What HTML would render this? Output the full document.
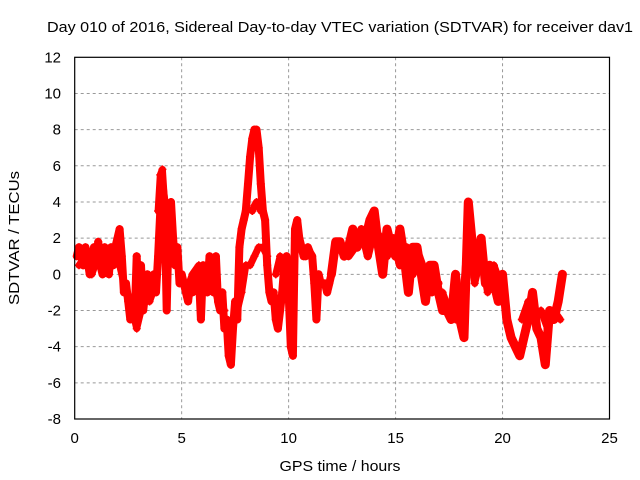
<!DOCTYPE html>
<html><head><meta charset="utf-8"><style>
body{margin:0;background:#fff}
svg{display:block;font-family:"Liberation Sans",sans-serif}
</style></head><body>
<svg id="chart" width="640" height="480" viewBox="0 0 640 480">
<text x="340" y="32" text-anchor="middle" font-size="15" textLength="586" lengthAdjust="spacingAndGlyphs" fill="#000">Day 010 of 2016, Sidereal Day-to-day VTEC variation (SDTVAR) for receiver dav1</text>
<text transform="translate(19,238) rotate(-90)" text-anchor="middle" font-size="15" textLength="134" lengthAdjust="spacingAndGlyphs">SDTVAR / TECUs</text>
<text x="340" y="471" text-anchor="middle" font-size="15" textLength="121" lengthAdjust="spacingAndGlyphs">GPS time / hours</text>
<g id="grid"></g>
<g id="marks"></g>
<rect x="74.7" y="57.3" width="534.8" height="361.7" fill="none" stroke="#000" stroke-width="1.2"/>
</svg>
<script>
const xTicks=[0,5,10,15,20,25];
const yTicks=[-8,-6,-4,-2,0,2,4,6,8,10,12];
const mainStartA=0.1, mainStepA=0.1;
const valuesA=[1,1.5,1,0.5,1.5, 0.8,0,1,1.5,0.5, 1.8,0.5,0,1.5,1, 0,1.5,0.5,1.5,2, 2.5,1,-1,-0.5,-1.5, -2.5,-1.5,-2.5,1,-2, 0.5,-2,-1,0,-0.5, -1,0,-1,1,3.5, 5,4,-2,3,4, 2,0.5,1.5,-0.5,0, -0.5,-1,-1.5,-0.5,-1, 0,-0.5,0,-2.5,0.5, 0,-1,1,0.5,-1, 1,-1.5,-2,-1,-3, -2.5,-4.5,-5,-3,-1.5, -2.5,1.5,2.5,3,3.5, 5,6.5,7.5,8,8, 7,5,3.5,3,0.5, -1,-1.5,-1,-2.5,-3, -2,-1,0.5,1,-1, -4,-4.5,2.5,3,2, 1.5,1,1,1.5,1.2, 1,-0.5,-2.5,0,-0.5, -0.5,-0.5,-1,-0.5,0];
const mainStartB=12.0, mainStepB=0.2;
const valuesB=[0,1.8,1.8,1,1.5,2.5,1.5,2,2,3,3.5,1.5,0,2.5,1.5,1,2.5,1,-1,1.5,1.5,0,-1.5,0.5,0.5,-1,-2,-2,-2.5,0,-2.5,-3.5,4,1.5,0.5,2,-0.5,0.5,-0.5,-1.5,0,-2.5,-3.5,-4,-4.5,-3.5,-2.5,-1,-3,-3.5,-5,-2,-2.5,-1.5,0];
const branchTimes1=[7.6,7.8,8.0,8.2,8.4,8.6,8.8,9.0];
const branchValues1=[-2,-1,0.5,0.5,1,1.5,1.5,1];
const branchTimes2=[9.4,9.6,9.8,10.0];
const branchValues2=[0,1,0.5,-1];
const branchTimes3=[3.9,4.0,4.1,4.2,4.3];
const branchValues3=[3.5,5.5,5.8,4,3];
const branchTimes4=[8.3,8.4,8.5,8.6,8.7];
const branchValues4=[3.5,3.8,4,3.8,3.5];
const branchTimes5=[0.2,0.5,0.8,1.1,1.4,1.7,2.0,2.3,2.6,2.9,3.2,3.5,3.8];
const branchValues5=[0.5,1,0,1,0.3,1,1,-0.5,-1.5,-3,-1.5,-1.5,-0.5];
const branchTimes6=[5.2,5.5,5.8,6.1,6.4,6.7,7.0];
const branchValues6=[-1,0,0.5,-0.5,0,-1.5,-2];
const branchTimes7=[12.8,13.1,13.4,13.7,14.0,14.3,14.6,14.9,15.2,15.5,15.8,16.1,16.4,16.7,17.0];
const branchValues7=[1,1.5,2.5,1,2.5,2,1,2,0.5,1.5,0,1,0,-1,-0.5];
const branchTimes8=[17.2,17.5,17.8,18.1,18.4,18.7,19.0,19.3,19.6,19.9];
const branchValues8=[-1,-2,-2.5,-2,2.5,-0.5,1,-1,0.5,-0.5];
const branchTimes9=[20.9,21.2,21.5,21.8,22.1,22.4,22.7];
const branchValues9=[-2.5,-1.5,-2.5,-2,-3,-2,-2.5];

const NS='http://www.w3.org/2000/svg';
const X0=74.7,X1=609.5,Y0=419,Y1=57.3;
function xs(t){return X0+(t-0)/(25-0)*(X1-X0);}
function ys(v){return Y0-(v+8)/20*(Y0-Y1);}
const grid=document.getElementById('grid'),marks=document.getElementById('marks');
function mk(tag,attrs,parent){const e=document.createElementNS(NS,tag);for(const k in attrs)e.setAttribute(k,attrs[k]);parent.appendChild(e);return e;}
xTicks.forEach(t=>{
 const x=xs(t);
 if(t>0&&t<25){const l=mk('line',{x1:x,x2:x,y1:Y1,y2:Y0,stroke:'#999','stroke-dasharray':'3,3'},grid);
 
 }
 const lb=mk('text',{x:x,y:443,'text-anchor':'middle','font-size':'15'},grid);
 lb.textContent=t;
 
 
});
yTicks.forEach(v=>{
 const y=ys(v);
 if(v>-8&&v<12){const l=mk('line',{x1:X0,x2:X1,y1:y,y2:y,stroke:'#999','stroke-dasharray':'3,3'},grid);
 
 }
 const lb=mk('text',{x:61,y:y+5,'text-anchor':'end','font-size':'15'},grid);
 lb.textContent=v;
 
 
});
function drawSeries(times,vals,name,w){
 const pts=times.map((t,i)=>xs(t).toFixed(1)+','+ys(vals[i]).toFixed(1)).join(' ');
 const pl=mk('polyline',{points:pts,fill:'none',stroke:'#f00','stroke-width':w,'stroke-linejoin':'round','stroke-linecap':'round'},marks);
 
 
 times.forEach((t,i)=>{
  const x=xs(t),y=ys(vals[i]);
  const p=mk('path',{d:`M${x-4},${y}h8M${x},${y-4}v8`,stroke:'#f00','stroke-width':'1.5'},marks);
  
  
 });
}
drawSeries(valuesA.map((v,i)=>mainStartA+i*mainStepA),valuesA,'series-a',8);
drawSeries(valuesB.map((v,i)=>mainStartB+i*mainStepB),valuesB,'series-b',9);
drawSeries(branchTimes1,branchValues1,'branch-1',7);
drawSeries(branchTimes2,branchValues2,'branch-2',7);
drawSeries(branchTimes3,branchValues3,'branch-3',7);
drawSeries(branchTimes4,branchValues4,'branch-4',7);
drawSeries(branchTimes5,branchValues5,'branch-5',7);
drawSeries(branchTimes6,branchValues6,'branch-6',7);
drawSeries(branchTimes7,branchValues7,'branch-7',8);
drawSeries(branchTimes8,branchValues8,'branch-8',7);
drawSeries(branchTimes9,branchValues9,'branch-9',7);
</script>
</body></html>
